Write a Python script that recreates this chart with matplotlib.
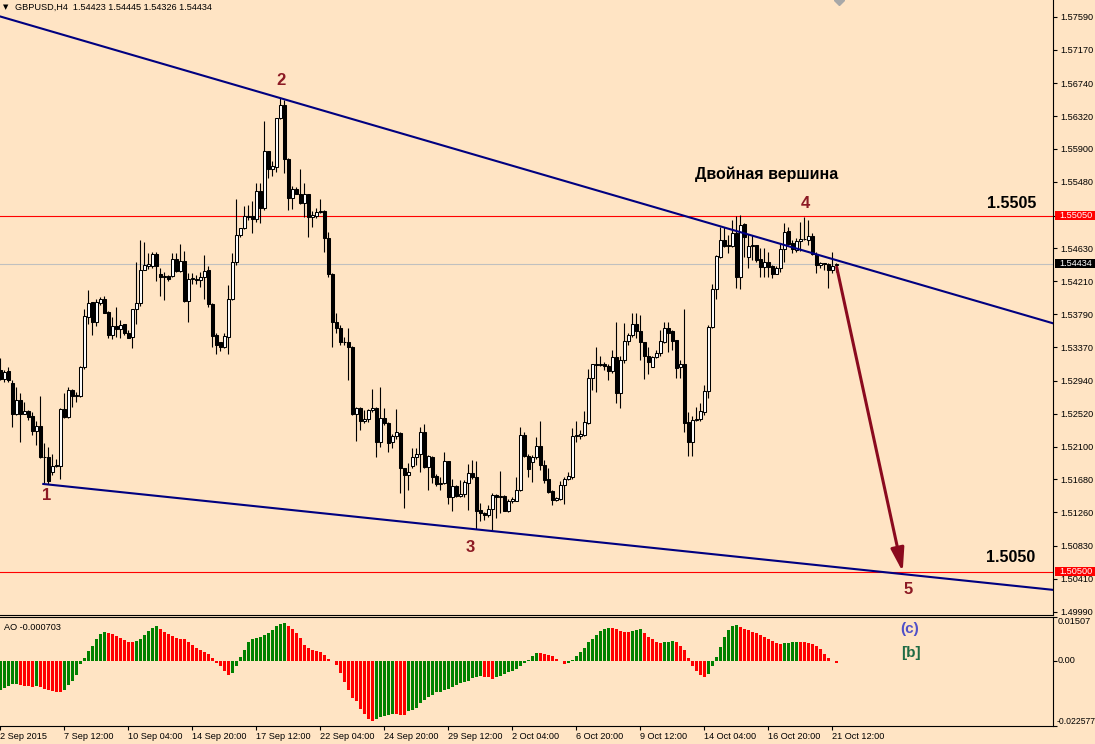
import matplotlib
matplotlib.use("Agg")
import matplotlib.pyplot as plt
import matplotlib.transforms as mtransforms
from matplotlib.patches import FancyArrowPatch, Rectangle
import numpy as np

plt.rcParams['font.family'] = ['Liberation Sans', 'DejaVu Sans']

BG = "#FFE4C4"
SYMBOL = "GBPUSD,H4"

# GBPUSD H4 candles, 210 bars
opens = [
    1.5308, 1.5296, 1.5306, 1.5291, 1.5252, 1.5269, 1.5252, 1.5255, 1.5249, 1.5230,
    1.5236, 1.5196, 1.5196, 1.5177, 1.5185, 1.5185, 1.5258, 1.5248, 1.5282, 1.5274,
    1.5274, 1.5311, 1.5376, 1.5394, 1.5369, 1.5393, 1.5398, 1.5382, 1.5352, 1.5364,
    1.5360, 1.5366, 1.5355, 1.5350, 1.5385, 1.5393, 1.5436, 1.5440, 1.5440, 1.5456,
    1.5430, 1.5427, 1.5428, 1.5428, 1.5449, 1.5434, 1.5447, 1.5396, 1.5424, 1.5424,
    1.5423, 1.5426, 1.5435, 1.5392, 1.5352, 1.5343, 1.5337, 1.5350, 1.5399, 1.5446,
    1.5480, 1.5489, 1.5505, 1.5504, 1.5500, 1.5536, 1.5515, 1.5587, 1.5564, 1.5567,
    1.5629, 1.5646, 1.5577, 1.5528, 1.5539, 1.5533, 1.5521, 1.5532, 1.5503, 1.5504,
    1.5509, 1.5511, 1.5476, 1.5430, 1.5369, 1.5361, 1.5344, 1.5344, 1.5337, 1.5252,
    1.5259, 1.5242, 1.5245, 1.5256, 1.5259, 1.5216, 1.5246, 1.5240, 1.5216, 1.5223,
    1.5227, 1.5182, 1.5174, 1.5185, 1.5196, 1.5201, 1.5228, 1.5184, 1.5196, 1.5172,
    1.5162, 1.5163, 1.5191, 1.5145, 1.5159, 1.5147, 1.5149, 1.5164, 1.5176, 1.5171,
    1.5129, 1.5125, 1.5122, 1.5130, 1.5148, 1.5146, 1.5147, 1.5128, 1.5140, 1.5141,
    1.5154, 1.5225, 1.5198, 1.5190, 1.5196, 1.5211, 1.5187, 1.5168, 1.5153, 1.5142,
    1.5143, 1.5161, 1.5168, 1.5171, 1.5223, 1.5224, 1.5225, 1.5240, 1.5297, 1.5315,
    1.5314, 1.5315, 1.5313, 1.5306, 1.5324, 1.5278, 1.5321, 1.5345, 1.5352, 1.5366,
    1.5357, 1.5343, 1.5326, 1.5312, 1.5324, 1.5329, 1.5344, 1.5361, 1.5357, 1.5346,
    1.5311, 1.5315, 1.5241, 1.5216, 1.5244, 1.5245, 1.5254, 1.5281, 1.5363, 1.5411,
    1.5452, 1.5474, 1.5466, 1.5466, 1.5483, 1.5427, 1.5494, 1.5452, 1.5466, 1.5467,
    1.5449, 1.5439, 1.5446, 1.5441, 1.5430, 1.5438, 1.5462, 1.5485, 1.5470, 1.5461,
    1.5473, 1.5475, 1.5474, 1.5479, 1.5456, 1.5442, 1.5444, 1.5443, 1.5436, 1.54423,
]
highs = [
    1.5323, 1.5308, 1.5312, 1.5295, 1.5286, 1.5278, 1.5267, 1.5257, 1.5254, 1.5242,
    1.5274, 1.5214, 1.5210, 1.5201, 1.5194, 1.5259, 1.5278, 1.5286, 1.5284, 1.5279,
    1.5313, 1.5386, 1.5410, 1.5395, 1.5399, 1.5401, 1.5402, 1.5383, 1.5375, 1.5388,
    1.5371, 1.5367, 1.5359, 1.5386, 1.5446, 1.5474, 1.5471, 1.5457, 1.5459, 1.5459,
    1.5438, 1.5433, 1.5429, 1.5457, 1.5457, 1.5469, 1.5460, 1.5431, 1.5431, 1.5429,
    1.5433, 1.5455, 1.5440, 1.5393, 1.5355, 1.5344, 1.5355, 1.5416, 1.5457, 1.5526,
    1.5489, 1.5517, 1.5518, 1.5523, 1.5547, 1.5547, 1.5626, 1.5588, 1.5575, 1.5630,
    1.5655, 1.5652, 1.5578, 1.5543, 1.5541, 1.5565, 1.5546, 1.5533, 1.5511, 1.5515,
    1.5526, 1.5512, 1.5484, 1.5431, 1.5380, 1.5365, 1.5350, 1.5361, 1.5338, 1.5261,
    1.5261, 1.5257, 1.5258, 1.5283, 1.5260, 1.5286, 1.5259, 1.5241, 1.5226, 1.5258,
    1.5228, 1.5183, 1.5189, 1.5208, 1.5208, 1.5235, 1.5239, 1.5199, 1.5198, 1.5175,
    1.5171, 1.5203, 1.5192, 1.5168, 1.5161, 1.5167, 1.5167, 1.5188, 1.5193, 1.5191,
    1.5138, 1.5126, 1.5135, 1.5150, 1.5149, 1.5179, 1.5148, 1.5143, 1.5145, 1.5171,
    1.5235, 1.5228, 1.5201, 1.5199, 1.5222, 1.5243, 1.5193, 1.5182, 1.5154, 1.5145,
    1.5166, 1.5171, 1.5178, 1.5233, 1.5242, 1.5231, 1.5255, 1.5309, 1.5316, 1.5337,
    1.5326, 1.5318, 1.5316, 1.5333, 1.5369, 1.5325, 1.5368, 1.5355, 1.5380, 1.5380,
    1.5378, 1.5344, 1.5337, 1.5325, 1.5333, 1.5359, 1.5369, 1.5369, 1.5359, 1.5346,
    1.5320, 1.5385, 1.5254, 1.5249, 1.5261, 1.5265, 1.5288, 1.5365, 1.5418, 1.5455,
    1.5491, 1.5491, 1.5480, 1.5499, 1.5504, 1.5506, 1.5495, 1.5482, 1.5480, 1.5468,
    1.5463, 1.5463, 1.5459, 1.5442, 1.5441, 1.5469, 1.5495, 1.5491, 1.5474, 1.5476,
    1.5497, 1.5503, 1.5499, 1.5483, 1.5459, 1.5446, 1.5444, 1.5444, 1.5459, 1.54445,
]
lows = [
    1.5295, 1.5293, 1.5293, 1.5235, 1.5250, 1.5216, 1.5251, 1.5244, 1.5225, 1.5212,
    1.5195, 1.5162, 1.5162, 1.5174, 1.5184, 1.5169, 1.5247, 1.5247, 1.5260, 1.5267,
    1.5273, 1.5309, 1.5367, 1.5352, 1.5364, 1.5391, 1.5380, 1.5348, 1.5347, 1.5350,
    1.5348, 1.5352, 1.5348, 1.5336, 1.5367, 1.5389, 1.5435, 1.5437, 1.5438, 1.5421,
    1.5402, 1.5397, 1.5421, 1.5427, 1.5433, 1.5433, 1.5395, 1.5369, 1.5418, 1.5418,
    1.5414, 1.5399, 1.5388, 1.5337, 1.5328, 1.5332, 1.5336, 1.5328, 1.5397, 1.5442,
    1.5478, 1.5488, 1.5499, 1.5483, 1.5497, 1.5495, 1.5512, 1.5553, 1.5555, 1.5561,
    1.5628, 1.5559, 1.5512, 1.5513, 1.5532, 1.5520, 1.5503, 1.5478, 1.5490, 1.5502,
    1.5508, 1.5458, 1.5426, 1.5337, 1.5355, 1.5340, 1.5340, 1.5295, 1.5250, 1.5217,
    1.5231, 1.5240, 1.5241, 1.5254, 1.5197, 1.5210, 1.5238, 1.5203, 1.5208, 1.5220,
    1.5150, 1.5132, 1.5155, 1.5182, 1.5186, 1.5177, 1.5182, 1.5155, 1.5163, 1.5159,
    1.5154, 1.5162, 1.5137, 1.5127, 1.5146, 1.5146, 1.5145, 1.5129, 1.5168, 1.5104,
    1.5115, 1.5116, 1.5120, 1.5103, 1.5119, 1.5125, 1.5127, 1.5126, 1.5138, 1.5140,
    1.5153, 1.5197, 1.5171, 1.5165, 1.5194, 1.5180, 1.5163, 1.5151, 1.5135, 1.5140,
    1.5142, 1.5137, 1.5167, 1.5169, 1.5216, 1.5219, 1.5223, 1.5239, 1.5282, 1.5280,
    1.5313, 1.5308, 1.5295, 1.5304, 1.5265, 1.5259, 1.5317, 1.5340, 1.5350, 1.5348,
    1.5320, 1.5296, 1.5303, 1.5311, 1.5323, 1.5326, 1.5342, 1.5331, 1.5333, 1.5298,
    1.5298, 1.5229, 1.5198, 1.5198, 1.5243, 1.5242, 1.5250, 1.5272, 1.5361, 1.5398,
    1.5451, 1.5465, 1.5457, 1.5465, 1.5412, 1.5411, 1.5452, 1.5438, 1.5448, 1.5446,
    1.5427, 1.5427, 1.5427, 1.5425, 1.5430, 1.5433, 1.5446, 1.5467, 1.5457, 1.5459,
    1.5460, 1.5474, 1.5467, 1.5455, 1.5431, 1.5438, 1.5435, 1.5412, 1.5431, 1.54326,
]
closes = [
    1.5296, 1.5305, 1.5295, 1.5252, 1.5269, 1.5252, 1.5255, 1.5248, 1.5230, 1.5236,
    1.5196, 1.5197, 1.5166, 1.5185, 1.5186, 1.5258, 1.5248, 1.5282, 1.5274, 1.5276,
    1.5312, 1.5377, 1.5393, 1.5369, 1.5395, 1.5398, 1.5381, 1.5352, 1.5364, 1.5360,
    1.5365, 1.5355, 1.5349, 1.5385, 1.5393, 1.5436, 1.5442, 1.5443, 1.5456, 1.5440,
    1.5427, 1.5428, 1.5424, 1.5449, 1.5434, 1.5447, 1.5396, 1.5424, 1.5425, 1.5423,
    1.5426, 1.5434, 1.5392, 1.5351, 1.5340, 1.5337, 1.5351, 1.5399, 1.5446, 1.5480,
    1.5489, 1.5505, 1.5503, 1.5500, 1.5536, 1.5515, 1.5587, 1.5564, 1.5568, 1.5629,
    1.5646, 1.5577, 1.5527, 1.5539, 1.5533, 1.5521, 1.5532, 1.5503, 1.5506, 1.5509,
    1.5511, 1.5476, 1.5430, 1.5369, 1.5361, 1.5344, 1.5343, 1.5337, 1.5252, 1.5259,
    1.5242, 1.5245, 1.5257, 1.5259, 1.5216, 1.5246, 1.5240, 1.5215, 1.5223, 1.5228,
    1.5182, 1.5174, 1.5177, 1.5196, 1.5201, 1.5228, 1.5184, 1.5198, 1.5171, 1.5162,
    1.5164, 1.5191, 1.5145, 1.5159, 1.5147, 1.5149, 1.5165, 1.5176, 1.5171, 1.5128,
    1.5125, 1.5122, 1.5130, 1.5148, 1.5146, 1.5147, 1.5128, 1.5141, 1.5143, 1.5154,
    1.5225, 1.5198, 1.5181, 1.5197, 1.5211, 1.5187, 1.5167, 1.5152, 1.5142, 1.5144,
    1.5161, 1.5168, 1.5172, 1.5223, 1.5225, 1.5226, 1.5241, 1.5297, 1.5315, 1.5314,
    1.5316, 1.5313, 1.5306, 1.5324, 1.5278, 1.5321, 1.5345, 1.5352, 1.5366, 1.5357,
    1.5343, 1.5325, 1.5318, 1.5324, 1.5329, 1.5345, 1.5361, 1.5355, 1.5345, 1.5310,
    1.5315, 1.5240, 1.5216, 1.5244, 1.5245, 1.5255, 1.5281, 1.5363, 1.5411, 1.5453,
    1.5474, 1.5466, 1.5467, 1.5483, 1.5427, 1.5493, 1.5478, 1.5466, 1.5467, 1.5448,
    1.5439, 1.5446, 1.5439, 1.5430, 1.5438, 1.5462, 1.5484, 1.5469, 1.5462, 1.5473,
    1.5475, 1.5475, 1.5479, 1.5456, 1.5442, 1.5445, 1.5443, 1.5436, 1.5441, 1.54434,
]

# Awesome Oscillator values per bar
ao = [
    -0.01027, -0.00958, -0.00866, -0.00819, -0.00796, -0.00854, -0.00877, -0.00889, -0.00891, -0.00866,
    -0.00912, -0.00969, -0.01027, -0.01062, -0.01085, -0.01096, -0.01016, -0.00854, -0.00704, -0.00485,
    -0.00104, 0.00092, 0.00323, 0.00519, 0.00762, 0.00923, 0.00992, 0.00958, 0.00923, 0.00866,
    0.00785, 0.00704, 0.00658, 0.00635, 0.00681, 0.00750, 0.00900, 0.01039, 0.01142, 0.01189,
    0.01119, 0.00992, 0.00912, 0.00866, 0.00785, 0.00750, 0.00739, 0.00658, 0.00554, 0.00439,
    0.00358, 0.00289, 0.00231, 0.00092, -0.00081, -0.00196, -0.00346, -0.00496, -0.00427, -0.00196,
    0.00127, 0.00381, 0.00646, 0.00762, 0.00785, 0.00808, 0.00877, 0.00958, 0.01073, 0.01189,
    0.01281, 0.01304, 0.01223, 0.01096, 0.00958, 0.00785, 0.00554, 0.00439, 0.00381, 0.00323,
    0.00289, 0.00208, 0.00058, -0.00005, -0.00138, -0.00427, -0.00750, -0.01027, -0.01292, -0.01408,
    -0.01673, -0.01835, -0.02008, -0.02100, -0.02020, -0.01950, -0.01904, -0.01869, -0.01846, -0.01858,
    -0.01869, -0.01881, -0.01754, -0.01696, -0.01639, -0.01466, -0.01350, -0.01258, -0.01177, -0.01096,
    -0.01073, -0.01027, -0.00981, -0.00912, -0.00831, -0.00773, -0.00739, -0.00692, -0.00600, -0.00565,
    -0.00542, -0.00554, -0.00577, -0.00623, -0.00577, -0.00519, -0.00450, -0.00404, -0.00358, -0.00289,
    -0.00196, -0.00081, 0.00035, 0.00150, 0.00265, 0.00254, 0.00231, 0.00185, 0.00150, 0.00069,
    -0.00023, -0.00115, -0.00081, 0.00035, 0.00150, 0.00289, 0.00439, 0.00635, 0.00762, 0.00900,
    0.01016, 0.01096, 0.01142, 0.01131, 0.01096, 0.01016, 0.00992, 0.00981, 0.01039, 0.01050,
    0.01096, 0.00958, 0.00842, 0.00750, 0.00635, 0.00623, 0.00646, 0.00658, 0.00669, 0.00635,
    0.00519, 0.00381, 0.00092, -0.00196, -0.00369, -0.00485, -0.00577, -0.00450, -0.00196, 0.00138,
    0.00485, 0.00831, 0.01073, 0.01212, 0.01246, 0.01177, 0.01108, 0.01073, 0.01004, 0.00969,
    0.00900, 0.00831, 0.00762, 0.00692, 0.00623, 0.00589, 0.00600, 0.00623, 0.00635, 0.00658,
    0.00652, 0.00646, 0.00623, 0.00589, 0.00519, 0.00415, 0.00242, 0.00104, -0.00020, -0.000703,
]

date_labels = ["2 Sep 2015", "7 Sep 12:00", "10 Sep 04:00", "14 Sep 20:00", "17 Sep 12:00",
               "22 Sep 04:00", "24 Sep 20:00", "29 Sep 12:00", "2 Oct 04:00", "6 Oct 20:00",
               "9 Oct 12:00", "14 Oct 04:00", "16 Oct 20:00", "21 Oct 12:00"]
price_ticks = [1.57590, 1.57170, 1.56740, 1.56320, 1.55900, 1.55480, 1.55050, 1.54630,
               1.54210, 1.53790, 1.53370, 1.52940, 1.52520, 1.52100, 1.51680, 1.51260,
               1.50830, 1.50410, 1.49990]
ao_range = [-0.022577, 0.01507]

level_top = 1.5505
level_bottom = 1.5050

# trend lines: (bar, price) anchors
upper_x = [70, 205]
upper_y = [1.5655, 1.5454]
lower_x = [11, 123]
lower_y = [1.5162, 1.5102]

# forecast arrow
arrow_x = [209.1, 225.6]
arrow_y = [1.5439, 1.5050]

wave_labels = ["1", "2", "3", "4", "5"]
wave_x = [11.7, 70.2, 117.4, 201.2, 226.9]
wave_y = [1.5147, 1.5678, 1.5081, 1.5521, 1.5027]

x = np.arange(len(opens))
o = np.array(opens)
h = np.array(highs)
l = np.array(lows)
c = np.array(closes)

fig = plt.figure(figsize=(10.95, 7.44), dpi=100, facecolor=BG)
ax = fig.add_axes([0, 0.17298, 0.96164, 0.82702], facecolor=BG)
ax_ao = fig.add_axes([0, 0.02419, 0.96164, 0.14610], facecolor=BG)

# horizontal levels
ax.axhline(level_top, color="red", lw=0.8, zorder=1)
ax.axhline(level_bottom, color="red", lw=0.8, zorder=1)
ax.axhline(c[-1], color="#C0C0C0", lw=0.8, zorder=1)

# candles
up = c >= o
ax.vlines(x, l, h, color="black", lw=0.8, zorder=3)
ax.bar(x, np.abs(c - o), bottom=np.minimum(o, c), width=0.62,
       color=["white" if u else "black" for u in up],
       edgecolor="black", linewidth=0.75, zorder=4)

# trend lines
ax.axline((upper_x[0], upper_y[0]), (upper_x[1], upper_y[1]), color="#000080", lw=1.5, zorder=5)
slope = (lower_y[1] - lower_y[0]) / (lower_x[1] - lower_x[0])
lx = np.array([lower_x[0] - 0.25, 300])
ax.plot(lx, lower_y[0] + slope * (lx - lower_x[0]), color="#000080", lw=1.5, zorder=5)

# arrow
ax.add_patch(FancyArrowPatch((arrow_x[0], arrow_y[0]), (arrow_x[1], arrow_y[1]),
                             arrowstyle="-|>,head_length=1.4,head_width=0.4",
                             mutation_scale=10, color="#8B0A1E", lw=2.2,
                             shrinkA=0, shrinkB=0, zorder=6))

for lab, xi, yi in zip(wave_labels, wave_x, wave_y):
    ax.text(xi, yi, lab, color="#8C1A24", fontsize=12, fontweight="bold",
            ha="center", va="center", zorder=7)

ax.text(191.7, 1.5558, "Двойная вершина", fontsize=11.5, fontweight="bold",
        ha="center", va="center", zorder=7)
ax.text(252.9, 1.5520, "1.5505", fontsize=11.5, fontweight="bold",
        ha="center", va="center", zorder=7)
ax.text(252.7, 1.5068, "1.5050", fontsize=11.5, fontweight="bold",
        ha="center", va="center", zorder=7)

ax.text(0.003, 1 - 7 / 615.3, "▼", transform=ax.transAxes, fontsize=5,
        family="DejaVu Sans", va="center", ha="left")
ax.text(15 / 1053, 1 - 7 / 615.3,
        f"{SYMBOL}  {o[-1]:.5f} {h[-1]:.5f} {l[-1]:.5f} {c[-1]:.5f}",
        transform=ax.transAxes, fontsize=6.6, va="center", ha="left")

ax.set_xlim(-0.075, 263.175)
ax.set_ylim(1.49944, 1.57803)
ax.plot([209.6], [1.57803], marker="D", ms=5, color="#A8A8A8", clip_on=True, zorder=8)

ax.yaxis.tick_right()
ax.set_yticks(price_ticks)
ax.set_yticklabels([f"{t:.5f}" for t in price_ticks])
ax.tick_params(axis="y", direction="out", length=3, width=0.8, pad=2.5, labelsize=6.6)
ax.tick_params(axis="x", bottom=False, labelbottom=False)
for s in ["left", "top"]:
    ax.spines[s].set_visible(False)
for s in ["right", "bottom"]:
    ax.spines[s].set_linewidth(0.8)

# price boxes on the axis
trans = mtransforms.blended_transform_factory(ax.transAxes, ax.transData)
for level, fc in [(level_top, "red"), (c[-1], "black"), (level_bottom, "red")]:
    ax.add_patch(Rectangle((1.0017, level - 0.0006), 0.05, 0.0012, transform=trans,
                           facecolor=fc, edgecolor="none", clip_on=False, zorder=10))
    ax.text(1.0058, level, f"{level:.5f}", transform=trans, color="white",
            fontsize=6.6, va="center", ha="left", clip_on=False, zorder=11)

# Awesome Oscillator
ao_arr = np.array(ao)
ao_colors = ["#008000"] + ["#008000" if ao_arr[i] > ao_arr[i - 1] else "#FF0000"
                           for i in range(1, len(ao_arr))]
ax_ao.bar(x, ao_arr, width=0.72, color=ao_colors)
ax_ao.set_xlim(-0.075, 263.175)
ax_ao.set_ylim(ao_range[0], ao_range[1])
ax_ao.text(4 / 1053, 0.91, f"AO {ao_arr[-1]:.6f}", transform=ax_ao.transAxes,
           fontsize=6.6, va="center", ha="left")
ax_ao.text(227.4, 0.0110, "(c)", color="#5050C8", fontsize=11, fontweight="bold",
           ha="center", va="center")
ax_ao.text(227.6, 0.0027, "[b]", color="#1F6B45", fontsize=11, fontweight="bold",
           ha="center", va="center")

ax_ao.yaxis.tick_right()
ax_ao.set_yticks([ao_range[1], 0.0, ao_range[0]])
ax_ao.set_yticklabels([])
ax_ao.tick_params(axis="y", direction="out", length=3, width=0.8)
trans2 = mtransforms.blended_transform_factory(ax_ao.transAxes, ax_ao.transData)
ax_ao.text(1.004, ao_range[1], "0.01507", transform=trans2, fontsize=6.6, va="top", ha="left")
ax_ao.text(1.004, 0.0, "0.00", transform=trans2, fontsize=6.6, va="center", ha="left")
ax_ao.text(1.003, ao_range[0], "-0.022577", transform=trans2, fontsize=6.2, va="bottom", ha="left")

ax_ao.set_xticks(np.arange(0, 209, 16))
ax_ao.set_xticklabels(date_labels)
for lbl in ax_ao.get_xticklabels():
    lbl.set_ha("left")
ax_ao.tick_params(axis="x", direction="out", length=3, width=0.8, pad=1.5, labelsize=6.6)
ax_ao.spines["left"].set_visible(False)
for s in ["right", "bottom", "top"]:
    ax_ao.spines[s].set_linewidth(0.8)

fig.savefig("out.png", dpi=100, facecolor=BG)
